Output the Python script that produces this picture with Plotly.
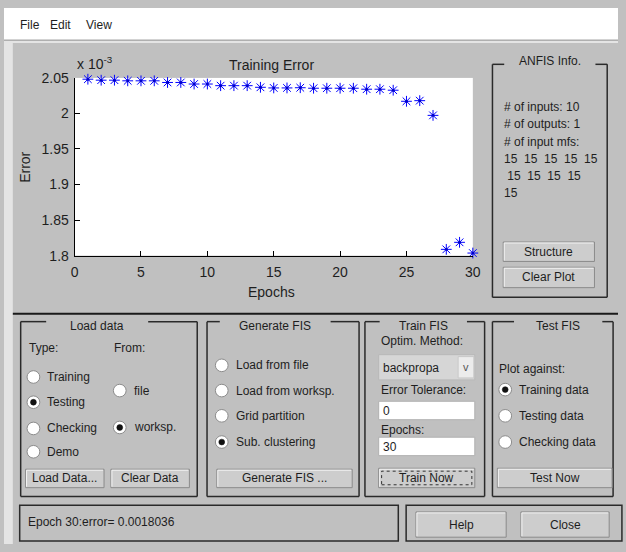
import plotly.graph_objects as go

# ---------------- data ----------------
epochs = list(range(1, 31))
train_error = [2.0482e-3, 2.0468e-3, 2.0468e-3, 2.0459e-3, 2.0459e-3, 2.0459e-3,
               2.0436e-3, 2.0436e-3, 2.0414e-3, 2.0414e-3, 2.0391e-3, 2.0391e-3,
               2.0391e-3, 2.0368e-3, 2.0359e-3, 2.0359e-3, 2.0362e-3, 2.0355e-3,
               2.0355e-3, 2.0355e-3, 2.0355e-3, 2.0341e-3, 2.0341e-3, 2.0327e-3,
               2.0171e-3, 2.0180e-3, 1.9973e-3, 1.8088e-3, 1.8187e-3, 1.8036e-3]
y_tick_vals = [1.80e-3, 1.85e-3, 1.90e-3, 1.95e-3, 2.00e-3, 2.05e-3]
y_tick_text = ['1.8', '1.85', '1.9', '1.95', '2', '2.05']
x_tick_vals = [0, 5, 10, 15, 20, 25, 30]

info_lines = ['# of inputs: 10', '# of outputs: 1', '# of input mfs:',
              '15\u00a0\u00a015\u00a0\u00a015\u00a0\u00a015\u00a0\u00a015',
              '\u00a015\u00a0\u00a015\u00a0\u00a015\u00a0\u00a015', '15']
load_types = ['Training', 'Testing', 'Checking', 'Demo']
load_from = ['file', 'worksp.']
gen_options = ['Load from file', 'Load from worksp.', 'Grid partition', 'Sub. clustering']
test_options = ['Training data', 'Testing data', 'Checking data']
status_text = 'Epoch 30:error= 0.0018036'

# ---------------- helpers (pixel -> paper) ----------------
W, H = 626, 552
FONT = 'Liberation Sans, Arial, sans-serif'
BG = '#c0c0c0'
TXT = '#1e1e1e'
shapes, annos = [], []


def X(px):
    return px / W


def Y(py):
    return 1 - py / H


def rect(x0, y0, x1, y1, fill=None, color=None, lw=1, dash=None, layer='above'):
    d = dict(type='rect', xref='paper', yref='paper', x0=X(x0), x1=X(x1), y0=Y(y1), y1=Y(y0),
             layer=layer, line=dict(width=lw if color else 0, color=color or 'rgba(0,0,0,0)'))
    if dash:
        d['line']['dash'] = dash
    if fill:
        d['fillcolor'] = fill
    shapes.append(d)


def seg(x0, y0, x1, y1, color='#2a2a2a', lw=1.5, dash=None):
    d = dict(type='line', xref='paper', yref='paper', x0=X(x0), x1=X(x1), y0=Y(y0), y1=Y(y1),
             line=dict(color=color, width=lw))
    if dash:
        d['line']['dash'] = dash
    shapes.append(d)


def text(x, y, s, size=12, anchor='left', color=TXT, angle=0):
    annos.append(dict(x=X(x), y=Y(y), xref='paper', yref='paper', text=s, showarrow=False,
                      xanchor=anchor, yanchor='middle', textangle=angle,
                      font=dict(family=FONT, size=size, color=color)))


def button(x0, y0, x1, y1, label):
    rect(x0, y0, x1, y1, fill='#cdcdcd', color='#8a8a8a', lw=1)
    seg(x0 + 1, y0 + 1, x1 - 1, y0 + 1, color='#f4f4f4', lw=1)
    seg(x0 + 1, y0 + 1, x0 + 1, y1 - 1, color='#f4f4f4', lw=1)
    text((x0 + x1) / 2, (y0 + y1) / 2, label, anchor='center')


def radio(cx, cy, label, selected=False):
    r = 6.5
    shapes.append(dict(type='circle', xref='paper', yref='paper', x0=X(cx - r), x1=X(cx + r),
                       y0=Y(cy + r), y1=Y(cy - r), fillcolor='#ffffff',
                       line=dict(color='#8c8c8c', width=1)))
    if selected:
        r2 = 3
        shapes.append(dict(type='circle', xref='paper', yref='paper', x0=X(cx - r2), x1=X(cx + r2),
                           y0=Y(cy + r2), y1=Y(cy - r2), fillcolor='#111111',
                           line=dict(color='#111111', width=0.5)))
    text(cx + 12, cy, label)


def frame(x0, y0, x1, y1, title, g0, g1, ty):
    seg(x0, y0, g0, y0)
    seg(g1, y0, x1, y0)
    seg(x0, y0, x0, y1)
    seg(x1, y0, x1, y1)
    seg(x0, y1, x1, y1)
    text((g0 + g1) / 2, ty, title, anchor='center')


# ---------------- window chrome ----------------
rect(0, 0, W, 33, fill='#ffffff', layer='below')
seg(0, 33, W, 33, color='#a0a0a0', lw=1)
seg(0, 35, W, 35, color='#f0f0f0', lw=1.5)
rect(0, 36, 9, H, fill='#e4e4e4', layer='below')
text(14, 17, 'File', size=12)
text(45, 17, 'Edit', size=12)
text(82, 17, 'View', size=12)

# axes texts
text(72, 57, 'x 10<sup>-3</sup>', size=14)
text(273, 59, 'Training Error', size=14, anchor='center')
text(22, 164, 'Error', size=14, anchor='center', angle=-90)
text(273, 292, 'Epochs', size=14, anchor='center')

# ANFIS info panel
frame(498, 58, 615, 298, 'ANFIS Info.', 510, 603, 55)
for i, s in enumerate(info_lines):
    text(508, 102 + i * 17.8, s)
button(509, 241, 602, 261, 'Structure')
button(509, 267, 602, 288, 'Clear Plot')

# separator
seg(9, 315, W, 315, color='#1a1a1a', lw=2)

# Load data panel
frame(17, 323, 197, 503, 'Load data', 43, 147, 328)
text(23, 350, 'Type:')
text(110, 350, 'From:')
for i, s in enumerate(load_types):
    radio(30, [380, 406, 433, 457][i], s, selected=(s == 'Testing'))
for i, s in enumerate(load_from):
    radio(118, [394, 432][i], s, selected=(s == 'worksp.'))
button(22, 475, 102, 494, 'Load Data...')
button(109, 475, 189, 494, 'Clear Data')

# Generate FIS panel
frame(207, 323, 362, 503, 'Generate FIS', 220, 333, 328)
for i, s in enumerate(gen_options):
    radio(222, [368, 394, 420, 447][i], s, selected=(s == 'Sub. clustering'))
button(217, 475, 355, 494, 'Generate FIS ...')

# Train FIS panel
frame(368, 323, 490, 503, 'Train FIS', 383, 472, 328)
text(382, 343, 'Optim. Method:')
rect(382, 357, 480, 383, fill='#d6d6d6', color='#b8b8b8', lw=1)
rect(463, 359, 479, 381, fill='#ececec', color='#c8c8c8', lw=1)
text(471, 370, 'v', size=11, anchor='center', color='#555555')
text(384, 371, 'backpropa')
text(382, 393, 'Error Tolerance:')
rect(382, 405, 480, 424, fill='#ffffff', color='#b0b0b0', lw=1)
text(384, 415, '0')
text(382, 435, 'Epochs:')
rect(382, 442, 480, 461, fill='#ffffff', color='#b0b0b0', lw=1)
text(384, 452, '30')
button(382, 474, 480, 494, 'Train Now')
rect(385, 477, 477, 491, color='#333333', lw=1, dash='dot')

# Test FIS panel
frame(498, 323, 621, 503, 'Test FIS', 520, 610, 328)
text(503, 372, 'Plot against:')
for i, s in enumerate(test_options):
    radio(511, [393, 420, 447][i], s, selected=(s == 'Training data'))
button(503, 474, 620, 494, 'Test Now')

# status and help/close
rect(16, 512, 402, 549, color='#2a2a2a', lw=1.5)
text(22, 529, status_text)
rect(410, 512, 630, 549, color='#2a2a2a', lw=1.5)
button(420, 519, 512, 545, 'Help')
button(527, 519, 617, 545, 'Close')

# ---------------- plot ----------------
fig = go.Figure()
fig.add_trace(go.Scatter(x=epochs, y=train_error, mode='markers', cliponaxis=False,
                         marker=dict(symbol='asterisk-open', size=9, color='#0000ff',
                                     line=dict(color='#0000ff', width=1)),
                         hoverinfo='x+y'))
fig.add_trace(go.Scatter(x=epochs, y=train_error, mode='markers', cliponaxis=False,
                         marker=dict(symbol='circle', size=3, color='#0000cc'),
                         hoverinfo='skip'))

fig.update_layout(
    width=W, height=H, margin=dict(l=0, r=0, t=0, b=0, pad=0),
    paper_bgcolor=BG, plot_bgcolor='#ffffff', showlegend=False,
    shapes=shapes, annotations=annos,
    xaxis=dict(domain=[X(72), X(478)], range=[0, 30], tickvals=x_tick_vals,
               ticks='inside', ticklen=5, tickcolor='#000000', showline=True,
               linecolor='#000000', linewidth=1, showgrid=False, zeroline=False,
               ticklabelstandoff=4,
               tickfont=dict(family=FONT, size=14, color=TXT), fixedrange=True),
    yaxis=dict(domain=[Y(255), Y(72)], range=[1.8e-3, 2.05e-3], tickvals=y_tick_vals,
               ticktext=y_tick_text, ticks='inside', ticklen=5, tickcolor='#000000',
               showline=True, linecolor='#000000', linewidth=1, showgrid=False,
               zeroline=False, ticklabelstandoff=2,
               tickfont=dict(family=FONT, size=14, color=TXT), fixedrange=True),
)

fig.write_html('out.html', config={'displayModeBar': False},
               post_script="document.body.style.margin='0';"
                           "document.documentElement.style.overflow='hidden';")
